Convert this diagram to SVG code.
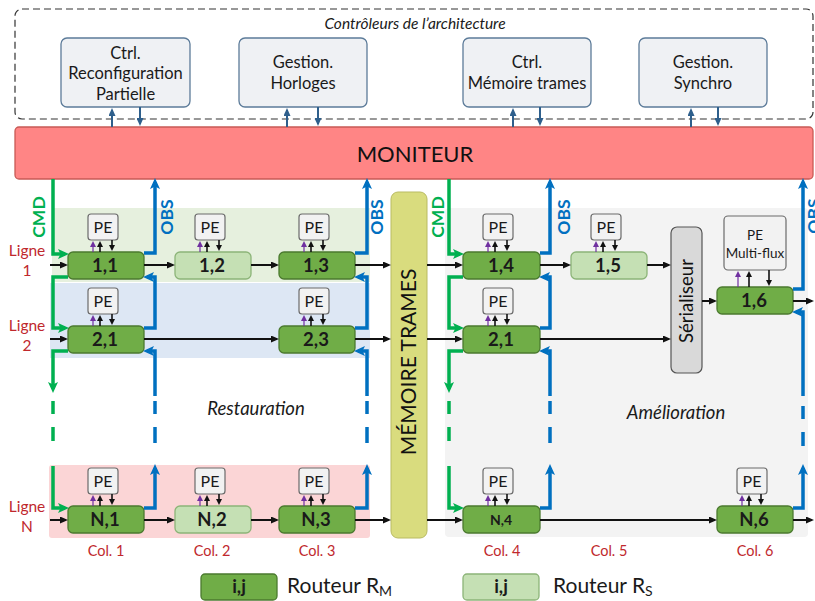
<svg xmlns="http://www.w3.org/2000/svg" width="815" height="601" viewBox="0 0 815 601">
<defs>
<style>
text{font-family:Lato,"Open Sans","Liberation Sans",sans-serif;}
.ctrl{fill:#eff1f4;stroke:#5c7b99;stroke-width:1.3;}
.ctxt{font-size:16.5px;fill:#1a1a1a;text-anchor:middle;}
.rm{fill:#70ad47;stroke:#4b7a2f;stroke-width:1.3;}
.rs{fill:#c5e0b4;stroke:#8cb478;stroke-width:1.3;}
.rt{font-size:18.5px;font-weight:bold;fill:#1a1a1a;text-anchor:middle;}
.pe{fill:#f2f2f2;stroke:#6b6b6b;stroke-width:1.2;}
.pet{font-size:16px;fill:#1a1a1a;text-anchor:middle;}
.g{fill:none;stroke:#00b050;stroke-width:3.5;}
.b{fill:none;stroke:#0070c0;stroke-width:3.5;}
.k{fill:none;stroke:#111;stroke-width:2;}
.kt{fill:none;stroke:#111;stroke-width:1.6;}
.pt{fill:none;stroke:#7030a0;stroke-width:1.2;}
.d{fill:none;stroke:#2e5f8c;stroke-width:2;}
.red{fill:#c0282d;font-size:15.5px;text-anchor:middle;}
.col{fill:#c0282d;font-size:14.5px;text-anchor:middle;}
.cmd{fill:#00b050;font-size:17.5px;font-weight:bold;text-anchor:middle;}
.obs{fill:#0070c0;font-size:17.5px;font-weight:bold;text-anchor:middle;}
.it{font-style:italic;font-size:18.5px;fill:#1a1a1a;text-anchor:middle;}
</style>
<marker id="ag" markerWidth="11" markerHeight="10" refX="7" refY="5" orient="auto" markerUnits="userSpaceOnUse"><path d="M0,0 L11,5 L0,10 L2.5,5 z" fill="#00b050"/></marker>
<marker id="ab" markerWidth="11" markerHeight="10" refX="7" refY="5" orient="auto" markerUnits="userSpaceOnUse"><path d="M0,0 L11,5 L0,10 L2.5,5 z" fill="#0070c0"/></marker>
<marker id="ak" markerWidth="8" markerHeight="7" refX="6" refY="3.5" orient="auto" markerUnits="userSpaceOnUse"><path d="M0,0 L8,3.5 L0,7 z" fill="#111"/></marker>
<marker id="as" markerWidth="6" markerHeight="6" refX="4" refY="3" orient="auto" markerUnits="userSpaceOnUse"><path d="M0,0 L6,3 L0,6 z" fill="#111"/></marker>
<marker id="ap" markerWidth="6" markerHeight="6" refX="4" refY="3" orient="auto" markerUnits="userSpaceOnUse"><path d="M0,0 L6,3 L0,6 z" fill="#7030a0"/></marker>
<marker id="ad" markerWidth="8" markerHeight="7" refX="6" refY="3.5" orient="auto" markerUnits="userSpaceOnUse"><path d="M0,0 L8,3.5 L0,7 z" fill="#2e5f8c"/></marker>
</defs>
<rect width="815" height="601" fill="#ffffff"/>

<!-- background regions -->
<g id="regions">
<rect x="52" y="208" width="318" height="74" fill="#e6f0de"/>
<rect x="50" y="283" width="320" height="75" fill="#dde7f4"/>
<rect x="49" y="465" width="321" height="73" rx="3" fill="#fbd5d6"/>
<rect x="445" y="208" width="363" height="329" rx="4" fill="#f3f3f3"/>
</g>

<!-- controllers container -->
<g id="controleurs">
<rect x="15" y="9" width="798" height="110" rx="7" fill="none" stroke="#333" stroke-width="1.2" stroke-dasharray="7,4"/>
<text x="415" y="29" style="font-style:italic;font-size:15.5px;fill:#1a1a1a;text-anchor:middle">Contrôleurs de l’architecture</text>
</g>
<g id="ctrl-reconf">
<rect class="ctrl" x="61" y="38" width="129" height="69" rx="6"/>
<text class="ctxt" x="125.5" y="59">Ctrl.</text>
<text class="ctxt" x="125.5" y="79">Reconfiguration</text>
<text class="ctxt" x="125.5" y="100">Partielle</text>
</g>
<g id="gestion-horloges">
<rect class="ctrl" x="239" y="38" width="128" height="69" rx="6"/>
<text class="ctxt" x="303" y="68">Gestion.</text>
<text class="ctxt" x="303" y="89">Horloges</text>
</g>
<g id="ctrl-memoire">
<rect class="ctrl" x="463" y="38" width="128" height="69" rx="6"/>
<text class="ctxt" x="527" y="68">Ctrl.</text>
<text class="ctxt" x="527" y="89">Mémoire trames</text>
</g>
<g id="gestion-synchro">
<rect class="ctrl" x="639" y="38" width="128" height="69" rx="6"/>
<text class="ctxt" x="703" y="68">Gestion.</text>
<text class="ctxt" x="703" y="89">Synchro</text>
</g>

<!-- monitor -->
<g id="moniteur">
<rect x="15" y="127" width="798" height="52" rx="4" fill="#ff8585" stroke="#c85a55" stroke-width="1.3"/>
<text x="415" y="162" style="font-size:22px;fill:#111;text-anchor:middle">MONITEUR</text>
</g>

<!-- memoire trames -->
<g id="memoire-trames">
<rect x="391" y="192" width="36" height="346" rx="7" fill="#d9dc7e" stroke="#b9bb62" stroke-width="1"/>
<text transform="translate(416,362) rotate(-90)" style="font-size:21px;fill:#111;text-anchor:middle">MÉMOIRE TRAMES</text>
</g>

<!-- serialiseur -->
<g id="serialiseur">
<rect x="671" y="227" width="31" height="146" rx="6" fill="#d9d9d9" stroke="#555" stroke-width="1.2"/>
<text transform="translate(693,301) rotate(-90)" style="font-size:18.5px;fill:#111;text-anchor:middle">Sérialiseur</text>
</g>

<!-- PEs -->
<g id="pe-1-1"><rect class="pe" x="88" y="214" width="30" height="26" rx="3"/><text class="pet" x="103" y="233">PE</text></g>
<g id="pe-1-2"><rect class="pe" x="195" y="214" width="30" height="26" rx="3"/><text class="pet" x="210" y="233">PE</text></g>
<g id="pe-1-3"><rect class="pe" x="299" y="214" width="30" height="26" rx="3"/><text class="pet" x="314" y="233">PE</text></g>
<g id="pe-1-4"><rect class="pe" x="483" y="214" width="30" height="26" rx="3"/><text class="pet" x="498" y="233">PE</text></g>
<g id="pe-1-5"><rect class="pe" x="591" y="214" width="30" height="26" rx="3"/><text class="pet" x="606" y="233">PE</text></g>
<g id="pe-multiflux"><rect class="pe" x="724" y="216" width="62" height="54" rx="4"/><text x="755" y="240" style="font-size:13.5px;fill:#1a1a1a;text-anchor:middle">PE</text><text x="755" y="258" style="font-size:13.5px;fill:#1a1a1a;text-anchor:middle">Multi-flux</text></g>
<g id="pe-2-1"><rect class="pe" x="88" y="288" width="30" height="26" rx="3"/><text class="pet" x="103" y="307">PE</text></g>
<g id="pe-2-3"><rect class="pe" x="299" y="288" width="30" height="26" rx="3"/><text class="pet" x="314" y="307">PE</text></g>
<g id="pe-2-1b"><rect class="pe" x="483" y="288" width="30" height="26" rx="3"/><text class="pet" x="498" y="307">PE</text></g>
<g id="pe-n-1"><rect class="pe" x="88" y="468" width="30" height="26" rx="3"/><text class="pet" x="103" y="487">PE</text></g>
<g id="pe-n-2"><rect class="pe" x="195" y="468" width="30" height="26" rx="3"/><text class="pet" x="210" y="487">PE</text></g>
<g id="pe-n-3"><rect class="pe" x="299" y="468" width="30" height="26" rx="3"/><text class="pet" x="314" y="487">PE</text></g>
<g id="pe-n-4"><rect class="pe" x="483" y="468" width="30" height="26" rx="3"/><text class="pet" x="498" y="487">PE</text></g>
<g id="pe-n-6"><rect class="pe" x="737" y="468" width="30" height="26" rx="3"/><text class="pet" x="752" y="487">PE</text></g>

<!-- routers -->
<g id="r-1-1"><rect class="rm" x="68" y="252" width="76" height="27" rx="5"/><text class="rt" x="105" y="272">1,1</text></g>
<g id="r-1-2"><rect class="rs" x="175" y="252" width="76" height="27" rx="5"/><text class="rt" x="212" y="272">1,2</text></g>
<g id="r-1-3"><rect class="rm" x="279" y="252" width="76" height="27" rx="5"/><text class="rt" x="316" y="272">1,3</text></g>
<g id="r-1-4"><rect class="rm" x="463" y="252" width="77" height="27" rx="5"/><text class="rt" x="501" y="272">1,4</text></g>
<g id="r-1-5"><rect class="rs" x="571" y="252" width="76" height="27" rx="5"/><text class="rt" x="608" y="272">1,5</text></g>
<g id="r-1-6"><rect class="rm" x="717" y="287" width="76" height="27" rx="5"/><text class="rt" x="754" y="307">1,6</text></g>
<g id="r-2-1"><rect class="rm" x="68" y="326" width="76" height="27" rx="5"/><text class="rt" x="105" y="346">2,1</text></g>
<g id="r-2-3"><rect class="rm" x="279" y="326" width="76" height="27" rx="5"/><text class="rt" x="316" y="346">2,3</text></g>
<g id="r-2-1b"><rect class="rm" x="463" y="326" width="77" height="27" rx="5"/><text class="rt" x="501" y="346">2,1</text></g>
<g id="r-n-1"><rect class="rm" x="68" y="506" width="76" height="27" rx="5"/><text class="rt" x="105" y="526">N,1</text></g>
<g id="r-n-2"><rect class="rs" x="175" y="506" width="76" height="27" rx="5"/><text class="rt" x="212" y="526">N,2</text></g>
<g id="r-n-3"><rect class="rm" x="279" y="506" width="76" height="27" rx="5"/><text class="rt" x="316" y="526">N,3</text></g>
<g id="r-n-4"><rect class="rm" x="463" y="506" width="77" height="27" rx="5"/><text x="501" y="525" style="font-size:14px;font-weight:bold;fill:#1a1a1a;text-anchor:middle">N,4</text></g>
<g id="r-n-6"><rect class="rm" x="717" y="506" width="76" height="27" rx="5"/><text class="rt" x="754" y="526">N,6</text></g>

<!-- connectors -->
<g id="connectors">
<!-- controllers <-> monitor -->
<path class="d" d="M112,127 V110" marker-end="url(#ad)"/>
<path class="d" d="M140,107 V124" marker-end="url(#ad)"/>
<path class="d" d="M287,127 V110" marker-end="url(#ad)"/>
<path class="d" d="M318,107 V124" marker-end="url(#ad)"/>
<path class="d" d="M513,127 V110" marker-end="url(#ad)"/>
<path class="d" d="M540,107 V124" marker-end="url(#ad)"/>
<path class="d" d="M691,127 V110" marker-end="url(#ad)"/>
<path class="d" d="M718,107 V124" marker-end="url(#ad)"/>

<!-- CMD green col1 -->
<path class="g" d="M53,179 V254 H65" marker-end="url(#ag)"/>
<path class="g" d="M68,277 H53 V328 H65" marker-end="url(#ag)"/>
<path class="g" d="M68,351 H53 V389" marker-end="url(#ag)"/>
<path class="g" d="M53,401 V414 M53,427 V441"/>
<path class="g" d="M53,466 V508 H65" marker-end="url(#ag)"/>
<!-- CMD green col4 -->
<path class="g" d="M449,179 V254 H460" marker-end="url(#ag)"/>
<path class="g" d="M463,277 H449 V328 H460" marker-end="url(#ag)"/>
<path class="g" d="M463,351 H449 V389" marker-end="url(#ag)"/>
<path class="g" d="M449,401 V414 M449,427 V441"/>
<path class="g" d="M449,466 V508 H460" marker-end="url(#ag)"/>

<!-- OBS blue col1 -->
<path class="b" d="M144,253 H155 V182" marker-end="url(#ab)"/>
<path class="b" d="M144,328 H155 V277 H147" marker-end="url(#ab)"/>
<path class="b" d="M155,396 V351 H147" marker-end="url(#ab)"/>
<path class="b" d="M155,401 V414 M155,427 V443"/>
<path class="b" d="M144,508 H155 V468" marker-end="url(#ab)"/>
<!-- OBS blue col3 -->
<path class="b" d="M355,253 H367 V182" marker-end="url(#ab)"/>
<path class="b" d="M355,328 H367 V277 H358" marker-end="url(#ab)"/>
<path class="b" d="M367,396 V351 H358" marker-end="url(#ab)"/>
<path class="b" d="M367,401 V414 M367,427 V443"/>
<path class="b" d="M355,508 H367 V468" marker-end="url(#ab)"/>
<!-- OBS blue col4 -->
<path class="b" d="M540,253 H550 V182" marker-end="url(#ab)"/>
<path class="b" d="M540,328 H550 V277 H543" marker-end="url(#ab)"/>
<path class="b" d="M550,396 V351 H543" marker-end="url(#ab)"/>
<path class="b" d="M550,401 V414 M550,427 V443"/>
<path class="b" d="M540,508 H550 V468" marker-end="url(#ab)"/>
<!-- OBS blue col6 -->
<path class="b" d="M793,289 H803 V182" marker-end="url(#ab)"/>
<path class="b" d="M803,396 V312 H796" marker-end="url(#ab)"/>
<path class="b" d="M803,406 V419 M803,432 V446"/>
<path class="b" d="M793,508 H803 V468" marker-end="url(#ab)"/>

<!-- data flow row 1 -->
<path class="k" d="M50,265 H66" marker-end="url(#ak)"/>
<path class="k" d="M144,265 H173" marker-end="url(#ak)"/>
<path class="k" d="M251,265 H277" marker-end="url(#ak)"/>
<path class="k" d="M355,265 H389" marker-end="url(#ak)"/>
<path class="k" d="M427,265 H461" marker-end="url(#ak)"/>
<path class="k" d="M540,265 H569" marker-end="url(#ak)"/>
<path class="k" d="M647,265 H669" marker-end="url(#ak)"/>
<path class="k" d="M702,301 H715" marker-end="url(#ak)"/>
<path class="k" d="M793,301 H812" marker-end="url(#ak)"/>
<!-- row 2 -->
<path class="k" d="M50,339 H66" marker-end="url(#ak)"/>
<path class="k" d="M144,339 H277" marker-end="url(#ak)"/>
<path class="k" d="M355,339 H389" marker-end="url(#ak)"/>
<path class="k" d="M427,339 H461" marker-end="url(#ak)"/>
<path class="k" d="M540,339 H669" marker-end="url(#ak)"/>
<!-- row N -->
<path class="k" d="M50,520 H66" marker-end="url(#ak)"/>
<path class="k" d="M144,520 H173" marker-end="url(#ak)"/>
<path class="k" d="M251,520 H277" marker-end="url(#ak)"/>
<path class="k" d="M355,520 H389" marker-end="url(#ak)"/>
<path class="k" d="M427,520 H461" marker-end="url(#ak)"/>
<path class="k" d="M540,520 H715" marker-end="url(#ak)"/>
<path class="k" d="M793,520 H812" marker-end="url(#ak)"/>

<!-- PE <-> router small arrows -->
<g id="pe-links">
<path class="pt" d="M93,252 V243" marker-end="url(#ap)"/><path class="kt" d="M100,252 V243" marker-end="url(#as)"/><path class="kt" d="M112,240 V249" marker-end="url(#as)"/>
<path class="pt" d="M200,252 V243" marker-end="url(#ap)"/><path class="kt" d="M207,252 V243" marker-end="url(#as)"/><path class="kt" d="M219,240 V249" marker-end="url(#as)"/>
<path class="pt" d="M304,252 V243" marker-end="url(#ap)"/><path class="kt" d="M311,252 V243" marker-end="url(#as)"/><path class="kt" d="M323,240 V249" marker-end="url(#as)"/>
<path class="pt" d="M488,252 V243" marker-end="url(#ap)"/><path class="kt" d="M495,252 V243" marker-end="url(#as)"/><path class="kt" d="M507,240 V249" marker-end="url(#as)"/>
<path class="pt" d="M596,252 V243" marker-end="url(#ap)"/><path class="kt" d="M603,252 V243" marker-end="url(#as)"/><path class="kt" d="M615,240 V249" marker-end="url(#as)"/>
<path class="pt" d="M738,287 V273" marker-end="url(#ap)"/><path class="kt" d="M749,287 V273" marker-end="url(#as)"/><path class="kt" d="M769,270 V284" marker-end="url(#as)"/>
<path class="pt" d="M93,326 V317" marker-end="url(#ap)"/><path class="kt" d="M100,326 V317" marker-end="url(#as)"/><path class="kt" d="M112,314 V323" marker-end="url(#as)"/>
<path class="pt" d="M304,326 V317" marker-end="url(#ap)"/><path class="kt" d="M311,326 V317" marker-end="url(#as)"/><path class="kt" d="M323,314 V323" marker-end="url(#as)"/>
<path class="pt" d="M488,326 V317" marker-end="url(#ap)"/><path class="kt" d="M495,326 V317" marker-end="url(#as)"/><path class="kt" d="M507,314 V323" marker-end="url(#as)"/>
<path class="pt" d="M93,506 V497" marker-end="url(#ap)"/><path class="kt" d="M100,506 V497" marker-end="url(#as)"/><path class="kt" d="M112,494 V503" marker-end="url(#as)"/>
<path class="pt" d="M200,506 V497" marker-end="url(#ap)"/><path class="kt" d="M207,506 V497" marker-end="url(#as)"/><path class="kt" d="M219,494 V503" marker-end="url(#as)"/>
<path class="pt" d="M304,506 V497" marker-end="url(#ap)"/><path class="kt" d="M311,506 V497" marker-end="url(#as)"/><path class="kt" d="M323,494 V503" marker-end="url(#as)"/>
<path class="pt" d="M488,506 V497" marker-end="url(#ap)"/><path class="kt" d="M495,506 V497" marker-end="url(#as)"/><path class="kt" d="M507,494 V503" marker-end="url(#as)"/>
<path class="pt" d="M742,506 V497" marker-end="url(#ap)"/><path class="kt" d="M749,506 V497" marker-end="url(#as)"/><path class="kt" d="M761,494 V503" marker-end="url(#as)"/>
</g>
</g>

<!-- labels -->
<g id="labels">
<text class="cmd" transform="translate(45,217) rotate(-90)">CMD</text>
<text class="obs" transform="translate(173,217) rotate(-90)">OBS</text>
<text class="obs" transform="translate(383,217) rotate(-90)">OBS</text>
<text class="cmd" transform="translate(444,217) rotate(-90)">CMD</text>
<text class="obs" transform="translate(570,217) rotate(-90)">OBS</text>
<text class="obs" transform="translate(820,216) rotate(-90)">OBS</text>
<text class="red" x="27" y="256">Ligne</text>
<text class="red" x="27" y="276">1</text>
<text class="red" x="27" y="331">Ligne</text>
<text class="red" x="27" y="351">2</text>
<text class="red" x="27" y="512">Ligne</text>
<text class="red" x="27" y="532">N</text>
<text class="col" x="106" y="556">Col. 1</text>
<text class="col" x="212" y="556">Col. 2</text>
<text class="col" x="317" y="556">Col. 3</text>
<text class="col" x="502" y="556">Col. 4</text>
<text class="col" x="609" y="556">Col. 5</text>
<text class="col" x="755" y="556">Col. 6</text>
<text class="it" x="256" y="415">Restauration</text>
<text class="it" x="676" y="419">Amélioration</text>
</g>

<!-- legend -->
<g id="legende-rm">
<rect class="rm" x="201" y="574" width="76" height="26" rx="4"/>
<text class="rt" x="239" y="593">i,j</text>
<text x="287" y="593" style="font-size:21px;fill:#1a1a1a">Routeur R<tspan dy="3" style="font-size:14px">M</tspan></text>
</g>
<g id="legende-rs">
<rect class="rs" x="463" y="574" width="76" height="26" rx="4"/>
<text class="rt" x="501" y="593">i,j</text>
<text x="553" y="593" style="font-size:21px;fill:#1a1a1a">Routeur R<tspan dy="3" style="font-size:14px">S</tspan></text>
</g>
</svg>
